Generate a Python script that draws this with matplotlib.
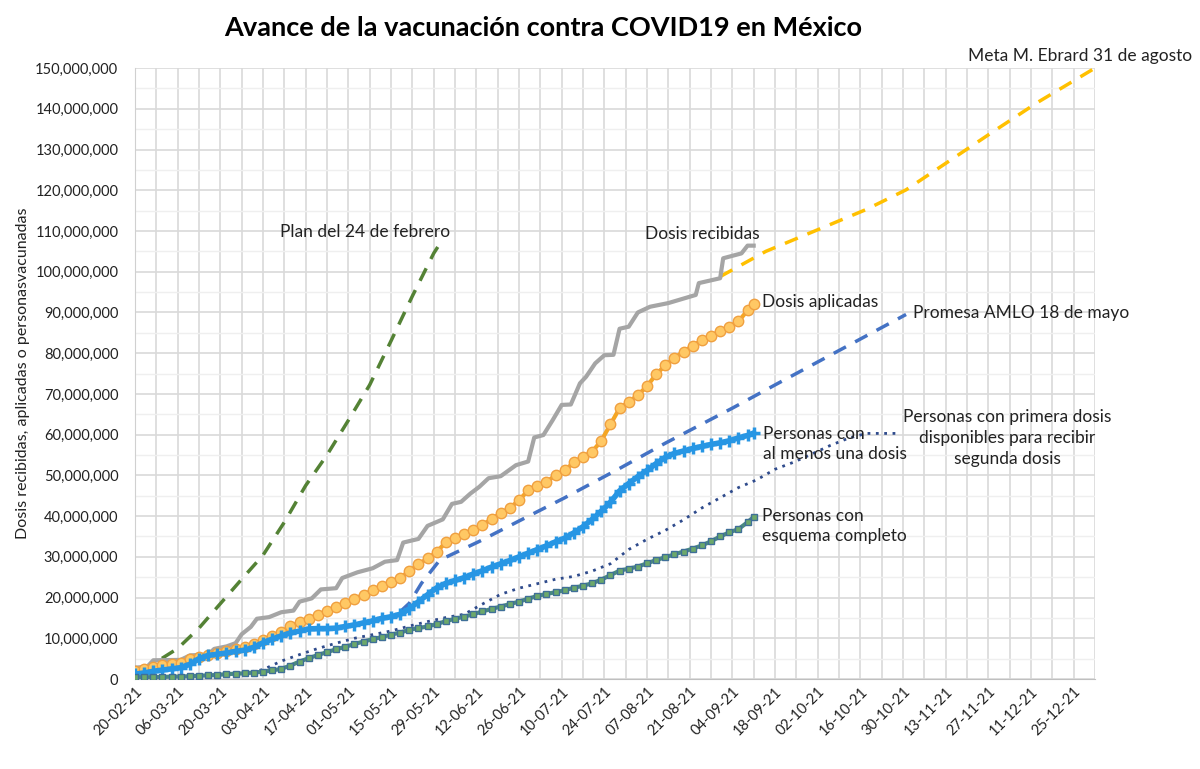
import datetime as dt
import numpy as np
import matplotlib
matplotlib.use('Agg')
import matplotlib.pyplot as plt
from matplotlib.ticker import MultipleLocator, FuncFormatter
import matplotlib.dates as mdates

plt.rcParams['font.family'] = ['Lato', 'DejaVu Sans']

start = dt.date(2021, 2, 20)

# días desde el 20-02-21, valores en millones
grid_days = list(range(0, 202, 3)) + [203]

aplicadas = [2.0, 2.4, 2.9, 3.4, 3.7, 4.0, 4.9, 5.5, 6.0, 6.5, 7.0, 7.4, 7.9, 8.7, 9.6,
             10.5, 11.6, 12.9, 13.9, 14.7, 15.8, 16.7, 17.6, 18.6, 19.7, 20.7, 21.8,
             22.9, 23.7, 24.9, 26.4, 28.2, 29.6, 31.2, 33.6, 34.7, 35.5, 36.6, 37.8,
             39.3, 40.7, 42.0, 43.9, 46.3, 47.4, 48.4, 50.0, 51.2, 53.2, 54.6, 55.8,
             58.5, 62.5, 66.5, 68.0, 69.7, 71.9, 74.8, 77.0, 78.8, 80.4, 81.8, 83.2,
             84.3, 85.4, 86.5, 87.8, 90.5, 92.0]

una_dosis = [1.2, 1.5, 1.9, 2.2, 2.5, 2.8, 3.6, 5.0, 5.8, 6.1, 6.4, 6.8, 7.1, 7.8, 8.9,
             9.8, 10.6, 11.3, 11.8, 12.3, 12.4, 12.4, 12.5, 12.9, 13.3, 13.8, 14.3,
             14.9, 15.3, 15.9, 17.2, 19.0, 20.7, 22.4, 23.5, 24.2, 24.9, 25.8, 26.6,
             27.5, 28.3, 29.1, 30.0, 30.9, 31.8, 32.7, 33.7, 34.6, 35.9, 37.4, 39.2,
             41.2, 43.4, 46.2, 48.0, 49.7, 51.2, 52.9, 54.4, 55.4, 56.0, 56.6, 57.1,
             57.6, 58.0, 58.5, 59.2, 59.8, 60.4]

completo = [0.4, 0.4, 0.5, 0.5, 0.6, 0.6, 0.7, 0.8, 0.9, 1.0, 1.2, 1.3, 1.4, 1.6, 1.8,
            2.1, 2.5, 3.3, 4.3, 5.1, 5.9, 6.6, 7.3, 7.9, 8.6, 9.2, 9.8, 10.3, 10.9,
            11.4, 12.1, 12.5, 12.9, 13.5, 14.2, 14.8, 15.3, 15.9, 16.6, 17.2, 17.8,
            18.4, 19.0, 19.7, 20.4, 20.9, 21.3, 21.8, 22.4, 22.9, 23.5, 24.4, 25.5,
            26.6, 27.1, 27.6, 28.4, 29.2, 29.9, 30.6, 31.3, 32.0, 32.8, 33.8, 35.0,
            36.0, 36.8, 38.5, 39.8]

recibidas_days = [0, 4, 6, 15, 18, 24, 26, 30, 33, 35, 38, 40, 44, 48, 52, 54, 58, 61,
                  66, 68, 73, 78, 82, 86, 88, 93, 96, 101, 104, 107, 110, 113, 116, 120,
                  125, 129, 131, 134, 137, 140, 143, 146, 148, 151, 154, 157, 159, 162,
                  165, 169, 175, 184, 185, 192, 193, 197, 199, 201, 203]
recibidas = [2.8, 3.0, 4.6, 4.7, 5.8, 6.0, 7.4, 8.0, 8.8, 11.0, 12.8, 14.8, 15.2, 16.4,
             16.8, 19.0, 19.8, 22.0, 22.3, 24.8, 26.2, 27.2, 28.8, 29.2, 33.5, 34.4,
             37.6, 39.2, 43.0, 43.5, 45.5, 47.2, 49.3, 49.8, 52.5, 53.4, 59.3, 59.9,
             63.5, 67.3, 67.4, 72.6, 74.2, 77.5, 79.5, 79.6, 86.0, 86.5, 90.0, 91.4,
             92.3, 94.3, 97.2, 98.4, 103.3, 104.1, 104.5, 106.4, 106.4]

disponibles_days = [30, 36, 42, 48, 54, 60, 66, 72, 78, 84, 90, 96, 102, 108, 114, 120,
                    126, 132, 138, 144, 150, 156, 162, 168, 174, 180, 186, 192, 198, 204,
                    210, 216, 222, 228, 234, 240, 250]
disponibles = [1.3, 1.5, 2.3, 4.4, 6.0, 7.5, 8.8, 10.0, 10.9, 11.8, 13.0, 14.1, 15.1,
               15.9, 18.4, 20.8, 22.3, 23.4, 24.5, 25.2, 26.5, 28.3, 31.8, 34.3, 36.5,
               39.1, 42.0, 44.5, 47.0, 48.9, 51.5, 53.2, 55.2, 57.3, 59.1, 60.3, 60.3]

plan_days = [2, 7, 14, 21, 28, 35, 42, 49, 56, 63, 70, 77, 84, 91, 98, 101]
plan = [2.0, 4.2, 7.5, 12.5, 18.5, 24.5, 30.4, 38.5, 47.5, 55.0, 63.5, 72.2, 83.0,
        94.0, 104.5, 108.0]

amlo_days = [87, 90, 94, 100, 113, 126, 141, 159, 174, 196, 210, 253]
amlo = [16.5, 18.6, 23.5, 29.2, 33.8, 38.8, 44.5, 51.7, 57.9, 66.5, 72.2, 89.5]

ebrard_days = [192, 207, 224, 240, 253, 268, 282, 296, 315]
ebrard = [98.8, 105.0, 110.3, 115.3, 120.1, 127.6, 134.6, 141.5, 150.0]


def fechas(days):
    return [start + dt.timedelta(days=d) for d in days]


def millones(vals):
    return np.array(vals) * 1e6


fig = plt.figure(figsize=(12, 7.69), dpi=100)
ax = fig.add_axes([0.1125, 0.117, 0.8, 0.7945])

ax.plot(fechas(plan_days), millones(plan), color='#548235', lw=2.5,
        dashes=(4, 3), zorder=3)
ax.plot(fechas(ebrard_days), millones(ebrard), color='#FFC000', lw=2.5,
        dashes=(4, 3), zorder=3)
ax.plot(fechas(amlo_days), millones(amlo), color='#4472C4', lw=2.5,
        dashes=(4, 3), zorder=3)
ax.plot(fechas(recibidas_days), millones(recibidas), color='#A5A5A5', lw=3,
        zorder=4)
ax.plot(fechas(disponibles_days), millones(disponibles), color='#2F4B8C', lw=2,
        linestyle=(0, (1, 2)), zorder=4)
ax.plot(fechas(grid_days), millones(aplicadas), color='#F5A623', lw=3,
        marker='o', ms=7.5, mfc='#FFC864', mec='#F0A040', mew=1, zorder=5)
ax.plot(fechas(grid_days), millones(una_dosis), color='#2796E4', lw=4,
        marker='+', ms=8, mec='#2796E4', mew=2.5, zorder=5)
ax.plot(fechas(grid_days), millones(completo), color='#4A8A80', lw=3,
        marker='s', ms=4.5, mfc='#6DA96A', mec='#3F6F98', mew=1, zorder=5)

ax.set_xlim(start, start + dt.timedelta(days=315))
ax.set_ylim(0, 150e6)
ax.set_xticks(fechas(range(0, 315, 14)))
ax.set_xticks(fechas(range(0, 316, 7)), minor=True)
ax.xaxis.set_major_formatter(mdates.DateFormatter('%d-%m-%y'))
ax.yaxis.set_major_locator(MultipleLocator(10e6))
ax.yaxis.set_minor_locator(MultipleLocator(5e6))
ax.yaxis.set_major_formatter(FuncFormatter(lambda v, p: f'{v:,.0f}'))

ax.grid(which='major', color='#D9D9D9', lw=1.2)
ax.grid(which='minor', axis='x', color='#D9D9D9', lw=1.2)
ax.grid(which='minor', axis='y', color='#EFEFEF', lw=1)
ax.set_axisbelow(True)
for s in ax.spines.values():
    s.set_visible(False)
ax.spines['left'].set_visible(True)
ax.spines['left'].set_color('#D0D0D0')
ax.spines['bottom'].set_visible(True)
ax.spines['bottom'].set_color('#BFBFBF')
ax.tick_params(which='both', length=0)
ax.tick_params(axis='y', labelsize=10.5, pad=12, labelcolor='#222222')
ax.tick_params(axis='x', labelsize=10.5, pad=4, labelcolor='#222222')
for lab in ax.get_xticklabels():
    lab.set_rotation(45)
    lab.set_ha('right')
    lab.set_rotation_mode('anchor')

ax.set_ylabel('Dosis recibidas, aplicadas o personasvacunadas', fontsize=11.5,
              labelpad=4, color='#222222')

fig.text(543 / 1200, 1 - 28 / 769, 'Avance de la vacunación contra COVID19 en México',
         ha='center', va='center', fontsize=19.5, fontweight='bold')


def etiqueta(x, y, s, ha='left'):
    fig.text(x / 1200, 1 - y / 769, s, ha=ha, va='center', fontsize=12.5,
             color='#222222', linespacing=1.35)


etiqueta(280, 232, 'Plan del 24 de febrero')
etiqueta(645, 234, 'Dosis recibidas')
etiqueta(968, 56, 'Meta M. Ebrard 31 de agosto')
etiqueta(762, 302, 'Dosis aplicadas')
etiqueta(913, 313, 'Promesa AMLO 18 de mayo')
etiqueta(763, 444, 'Personas con\nal menos una dosis')
etiqueta(1007, 438, 'Personas con primera dosis\ndisponibles para recibir\nsegunda dosis',
         ha='center')
etiqueta(762, 526, 'Personas con\nesquema completo')

fig.savefig('out.png', dpi=100)
